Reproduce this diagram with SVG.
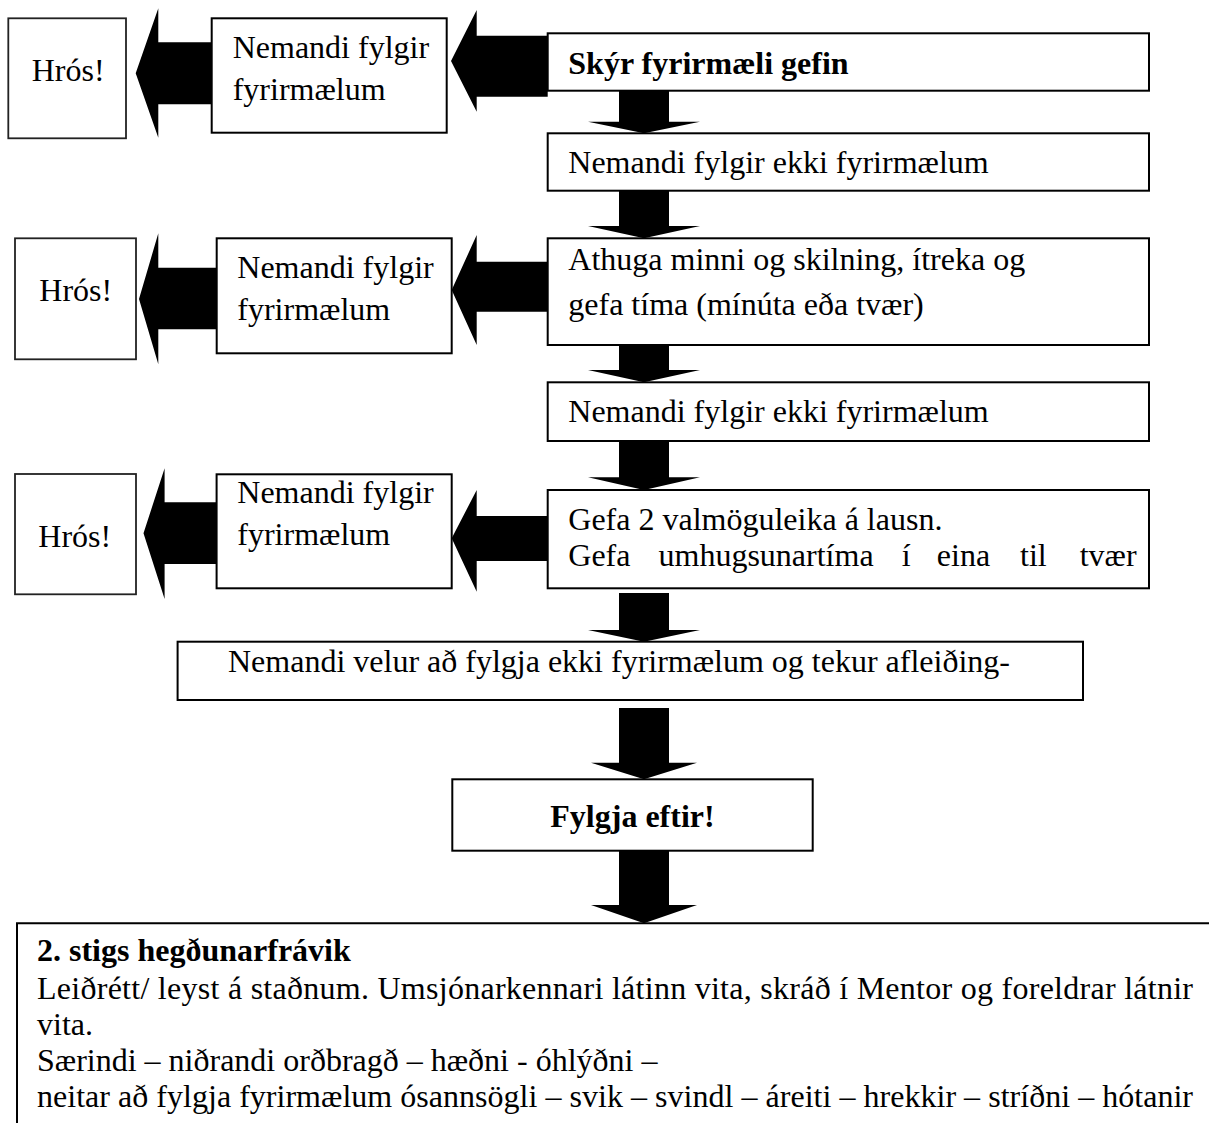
<svg xmlns="http://www.w3.org/2000/svg" width="1209" height="1123" viewBox="0 0 1209 1123">
<style>
.box{fill:#fff;stroke:#000;stroke-width:2}
.hros{fill:#fff;stroke:#222;stroke-width:1.8}
.arr{fill:#000;stroke:none}
text{font-family:"Liberation Serif","Times New Roman",serif;font-size:32px;fill:#000}
.b{font-weight:bold}
</style>
<rect width="1209" height="1123" fill="#fff"/>
<g id="connectors">
<polygon class="arr" points="211.7,42.3 158.3,42.3 158.3,8.3 135.7,73.3 158.3,137.7 158.3,104.3 211.7,104.3"/>
<polygon class="arr" points="547.7,35.7 476.7,35.7 476.7,10 451,61 476.7,111.7 476.7,96.7 547.7,96.7"/>
<polygon class="arr" points="216.7,267.7 158.3,267.7 158.3,233.3 139,299 158.3,364.3 158.3,329.3 216.7,329.3"/>
<polygon class="arr" points="548,261.7 476.7,261.7 476.7,235 451.7,290 476.7,345 476.7,311.7 548,311.7"/>
<polygon class="arr" points="216.6,502.3 164.6,502.3 164.6,468.3 143.5,533.3 164.6,599 164.6,564 216.6,564"/>
<polygon class="arr" points="548,516 476.7,516 476.7,490 451.7,538.3 476.7,591.7 476.7,561 548,561"/>
<polygon class="arr" points="619,90.7 669,90.7 669,121.7 700,121.7 644,133.3 588,121.7 619,121.7"/>
<polygon class="arr" points="619,190.7 669,190.7 669,226 700,226 644,238.3 588,226 619,226"/>
<polygon class="arr" points="619,345 669,345 669,370 700,370 644,382.3 588,370 619,370"/>
<polygon class="arr" points="619,441 669,441 669,477.3 700,477.3 644,490 588,477.3 619,477.3"/>
<polygon class="arr" points="619,593 669,593 669,630 700,630 644,641.7 588,630 619,630"/>
<polygon class="arr" points="619,708 669,708 669,762.7 697,762.7 644,779.3 591,762.7 619,762.7"/>
<polygon class="arr" points="619,850.7 669,850.7 669,905 697,905 644,923.3 591,905 619,905"/>
</g>
<g id="hros1"><rect class="hros" x="8.3" y="18.3" width="117.7" height="120"/><text x="31.7" y="80.7">Hrós!</text></g>
<g id="nemandi1"><rect class="box" x="211.7" y="18.3" width="235" height="114.4"/><text x="232.7" y="58.3">Nemandi fylgir</text><text x="232.7" y="100">fyrirmælum</text></g>
<g id="skyr"><rect class="box" x="547.7" y="33.3" width="601.3" height="57.4"/><text class="b" x="568.3" y="74">Skýr fyrirmæli gefin</text></g>
<g id="ekki1"><rect class="box" x="547.7" y="133.3" width="601.3" height="57.4"/><text x="568.3" y="173.3">Nemandi fylgir ekki fyrirmælum</text></g>
<g id="hros2"><rect class="hros" x="15" y="238.3" width="121" height="121"/><text x="39.3" y="301">Hrós!</text></g>
<g id="nemandi2"><rect class="box" x="216.7" y="238.3" width="235" height="115"/><text x="237.3" y="278.3">Nemandi fylgir</text><text x="237.3" y="320">fyrirmælum</text></g>
<g id="athuga"><rect class="box" x="547.7" y="238.3" width="601.3" height="106.7"/><text x="568.3" y="270">Athuga minni og skilning, ítreka og</text><text x="568.3" y="315">gefa tíma (mínúta eða tvær)</text></g>
<g id="ekki2"><rect class="box" x="547.7" y="382.3" width="601.3" height="58.7"/><text x="568.3" y="421.7">Nemandi fylgir ekki fyrirmælum</text></g>
<g id="hros3"><rect class="hros" x="15" y="474" width="121" height="120.3"/><text x="38.3" y="546.7">Hrós!</text></g>
<g id="nemandi3"><rect class="box" x="216.6" y="474.3" width="235.1" height="114"/><text x="237.3" y="503">Nemandi fylgir</text><text x="237.3" y="545">fyrirmælum</text></g>
<g id="gefa"><rect class="box" x="547.7" y="490" width="601.3" height="98.3"/><text x="568.3" y="530">Gefa 2 valmöguleika á lausn.</text><text y="566.3"><tspan x="568.3">Gefa</tspan><tspan x="658.5">umhugsunartíma</tspan><tspan x="901.8">í</tspan><tspan x="936.8">eina</tspan><tspan x="1020">til</tspan><tspan x="1079.7">tvær</tspan></text></g>
<g id="velur"><rect class="box" x="177.6" y="641.7" width="905.4" height="58.3"/><text x="228" y="671.7">Nemandi velur að fylgja ekki fyrirmælum og tekur afleiðing-</text></g>
<g id="fylgja"><rect class="box" x="452.3" y="779.3" width="360.4" height="71.4"/><text class="b" x="632.5" y="827.3" text-anchor="middle">Fylgja eftir!</text></g>
<g id="stig2"><path d="M17,1123 V923.3 H1209" fill="none" stroke="#000" stroke-width="2"/>
<text class="b" x="37" y="961">2. stigs hegðunarfrávik</text>
<text x="37" y="999" textLength="1156" lengthAdjust="spacing">Leiðrétt/ leyst á staðnum. Umsjónarkennari látinn vita, skráð í Mentor og foreldrar látnir</text>
<text x="37" y="1035">vita.</text>
<text x="37" y="1071">Særindi – niðrandi orðbragð – hæðni - óhlýðni –</text>
<text x="37" y="1107" textLength="1156" lengthAdjust="spacing">neitar að fylgja fyrirmælum ósannsögli – svik – svindl – áreiti – hrekkir – stríðni – hótanir</text>
</g>
</svg>
